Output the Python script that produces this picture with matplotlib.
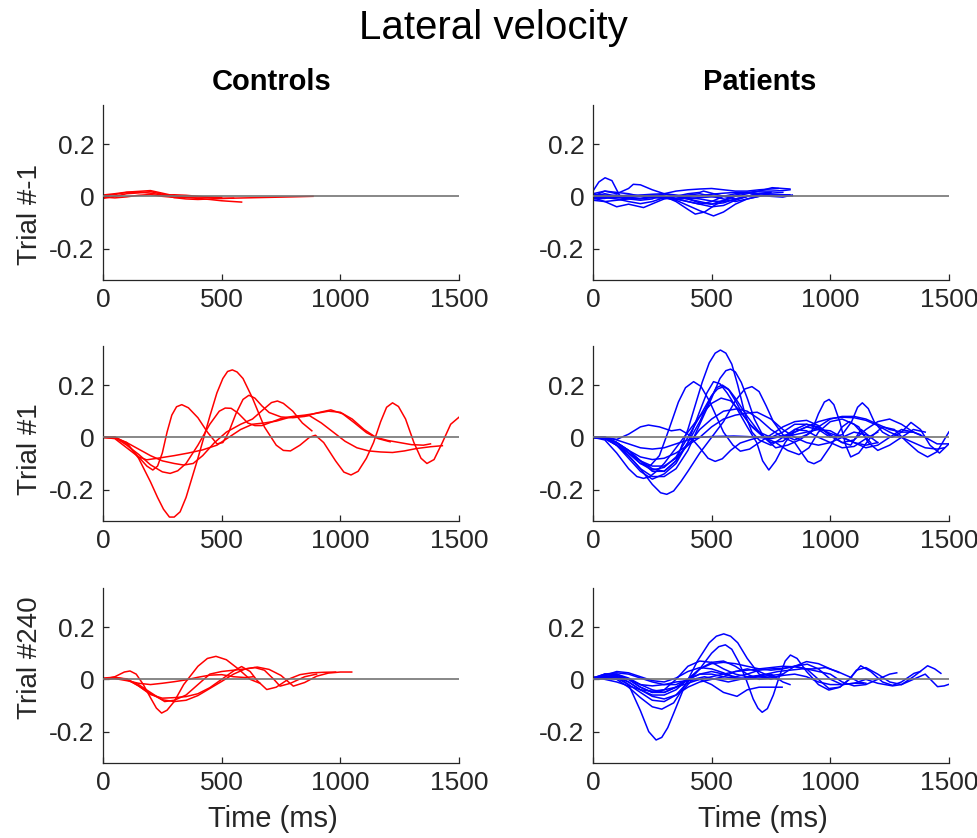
import matplotlib
matplotlib.use("Agg")
import matplotlib.pyplot as plt

plt.rcParams["font.family"] = ["Liberation Sans", "DejaVu Sans"]
plt.rcParams["axes.unicode_minus"] = False

# (time in ms, lateral velocity) samples for each trajectory
ctrl_pre = [
    [(0, 0.005), (50, 0.01), (100, 0.016), (150, 0.019), (200, 0.022), (250, 0.012), (300, 0.002), (350, -0.004),
     (400, -0.008), (450, -0.012), (500, -0.017), (550, -0.02), (584, -0.022)],
    [(0, -0.008), (50, 0.0), (100, 0.01), (150, 0.013), (200, 0.018), (250, 0.008), (300, -0.005), (350, -0.01),
     (400, -0.012), (450, -0.01), (500, -0.008), (600, -0.006), (700, -0.004), (800, -0.002), (885, 0.0)],
    [(0, 0.002), (50, 0.007), (100, 0.015), (150, 0.016), (200, 0.012), (250, 0.005), (300, 0.006), (350, 0.004),
     (400, 0.0), (450, -0.004), (500, -0.008), (550, -0.007)],
    [(0, -0.003), (50, -0.006), (100, -0.002), (150, 0.004), (200, 0.007), (250, 0.0), (300, -0.004), (400, -0.003),
     (500, -0.004)],
]

ctrl_first = [
    [(0, 0), (50, 0.0), (100, -0.02), (150, -0.08), (200, -0.17), (230, -0.23), (255, -0.275), (280, -0.305),
     (300, -0.305), (325, -0.285), (350, -0.23), (400, -0.08), (450, 0.08), (480, 0.17), (505, 0.225),
     (525, 0.252), (545, 0.258), (565, 0.25), (590, 0.225), (630, 0.15), (680, 0.04), (730, -0.03),
     (760, -0.05), (790, -0.052), (830, -0.03), (870, 0.0), (895, 0.008), (930, -0.02), (980, -0.09),
     (1015, -0.133), (1045, -0.144), (1075, -0.13), (1110, -0.08), (1140, -0.02), (1170, 0.06), (1195, 0.115),
     (1220, 0.132), (1245, 0.118), (1275, 0.07), (1310, -0.02), (1340, -0.08), (1365, -0.1), (1395, -0.085),
     (1430, -0.02), (1465, 0.05), (1500, 0.077)],
    [(0, 0), (50, 0.002), (100, -0.025), (150, -0.075), (185, -0.11), (210, -0.125), (230, -0.11), (250, -0.06),
     (270, 0.02), (290, 0.085), (310, 0.117), (332, 0.125), (360, 0.113), (400, 0.075), (440, 0.02),
     (480, -0.025), (505, -0.02), (530, 0.02), (560, 0.09), (590, 0.145), (615, 0.161), (640, 0.15),
     (670, 0.12), (700, 0.095), (750, 0.078), (800, 0.075), (850, 0.08), (900, 0.093), (960, 0.105),
     (1010, 0.09), (1060, 0.055), (1110, 0.018), (1160, -0.005), (1210, -0.017)],
    [(0, 0), (50, -0.003), (100, -0.02), (150, -0.045), (200, -0.07), (250, -0.09), (300, -0.1), (340, -0.106),
     (380, -0.1), (420, -0.07), (470, -0.02), (520, 0.02), (580, 0.05), (630, 0.07), (680, 0.11), (710, 0.133),
     (735, 0.139), (760, 0.13), (800, 0.1), (840, 0.055), (880, 0.025)],
    [(0, 0), (50, 0.0), (100, -0.03), (150, -0.065), (200, -0.105), (250, -0.132), (283, -0.138), (315, -0.128),
     (350, -0.1), (400, -0.03), (450, 0.05), (490, 0.1), (515, 0.112), (540, 0.111), (570, 0.092), (610, 0.055),
     (640, 0.045), (670, 0.045), (700, 0.055), (750, 0.072), (800, 0.08), (850, 0.085), (900, 0.092),
     (950, 0.1), (1000, 0.096), (1050, 0.07), (1100, 0.03), (1150, 0.0), (1200, -0.012), (1250, -0.02),
     (1300, -0.028), (1350, -0.03), (1380, -0.025)],
    [(0, 0), (50, -0.005), (100, -0.04), (150, -0.075), (184, -0.086), (230, -0.08), (300, -0.07), (360, -0.06),
     (420, -0.048), (480, -0.03), (530, 0.0), (580, 0.03), (630, 0.05), (680, 0.055), (730, 0.062), (780, 0.075),
     (830, 0.082), (870, 0.083), (920, 0.055), (970, 0.02), (1020, -0.015), (1070, -0.04), (1120, -0.052),
     (1170, -0.056), (1220, -0.058), (1270, -0.052), (1320, -0.043), (1380, -0.036), (1430, -0.032)],
]

ctrl_last = [
    [(0, 0), (50, 0.01), (90, 0.028), (114, 0.032), (140, 0.02), (170, -0.02), (200, -0.07), (225, -0.11),
     (247, -0.129), (270, -0.118), (300, -0.085), (340, -0.02), (400, 0.05), (440, 0.08), (476, 0.088),
     (520, 0.075), (570, 0.04), (620, 0.0), (661, -0.015)],
    [(0, 0), (50, 0.006), (100, 0.002), (150, -0.025), (200, -0.055), (250, -0.078), (300, -0.085), (350, -0.08),
     (400, -0.062), (450, -0.035), (500, -0.008), (550, 0.02), (600, 0.04), (650, 0.047), (700, 0.038),
     (750, 0.015), (802, -0.026), (850, -0.012), (900, 0.012), (950, 0.024), (1000, 0.028), (1048, 0.028)],
    [(0, 0.005), (50, 0.008), (100, 0.0), (150, -0.025), (200, -0.058), (250, -0.072), (300, -0.07),
     (350, -0.066), (400, -0.055), (450, -0.032), (500, 0.0), (550, 0.032), (584, 0.049), (620, 0.03),
     (650, -0.005), (690, -0.039), (730, -0.03), (780, 0.0), (830, 0.018), (880, 0.025), (930, 0.027),
     (980, 0.028)],
    [(0, 0.002), (50, 0.003), (100, -0.005), (150, -0.015), (200, -0.02), (250, -0.015), (300, -0.009),
     (350, -0.002), (400, 0.008), (450, 0.016), (500, 0.018), (550, 0.01), (600, 0.007), (633, 0.01)],
    [(0, 0.0), (50, 0.005), (100, 0.0), (150, -0.02), (200, -0.05), (260, -0.085), (300, -0.08), (350, -0.06),
     (400, -0.02), (450, 0.02), (500, 0.03), (550, 0.035), (600, 0.04), (640, 0.045), (680, 0.035), (720, 0.0),
     (746, -0.026), (790, -0.015), (850, 0.01), (900, 0.02)],
]

pat_pre = [
    [(0, 0.02), (25, 0.055), (51, 0.071), (80, 0.06), (114, 0.0), (150, -0.005), (200, 0.0), (250, 0.005),
     (300, 0.0), (350, -0.01), (400, -0.02), (450, -0.03), (500, -0.02), (550, 0.0), (600, 0.01), (650, 0.015),
     (700, 0.01), (750, 0.005), (800, 0.006), (830, 0.006)],
    [(0, 0.0), (50, 0.02), (100, 0.01), (150, 0.03), (170, 0.046), (200, 0.044), (250, 0.025), (300, 0.01),
     (350, 0.0), (400, -0.01), (450, -0.025), (500, -0.03), (550, -0.015), (600, 0.005), (650, 0.015),
     (700, 0.02), (750, 0.02), (800, 0.022), (830, 0.025)],
    [(0, -0.005), (50, -0.02), (100, -0.04), (150, -0.03), (213, -0.043), (260, -0.025), (300, -0.01),
     (350, 0.0), (400, 0.01), (450, 0.015), (466, 0.02), (500, 0.012), (550, 0.0), (600, -0.01), (650, 0.0),
     (700, 0.01)],
    [(0, 0.0), (50, 0.01), (100, 0.0), (150, -0.005), (200, -0.01), (250, -0.005), (300, 0.0), (350, -0.02),
     (400, -0.05), (431, -0.068), (470, -0.06), (520, -0.03), (570, -0.01), (600, 0.0), (650, 0.01), (700, 0.02),
     (755, 0.033), (800, 0.03), (830, 0.028)],
    [(0, -0.01), (50, -0.008), (100, 0.0), (150, 0.005), (200, 0.003), (250, 0.0), (300, -0.005), (350, -0.015),
     (400, -0.035), (450, -0.055), (508, -0.075), (550, -0.06), (600, -0.03), (650, -0.01), (700, 0.0)],
    [(0, 0.01), (50, 0.0), (100, -0.005), (150, -0.01), (200, -0.015), (250, -0.01), (300, 0.01), (350, 0.02),
     (400, 0.025), (450, 0.028), (500, 0.03), (550, 0.025), (600, 0.02), (650, 0.02), (700, 0.025),
     (750, 0.028), (780, 0.03)],
    [(0, 0.005), (50, 0.005), (100, 0.0), (150, -0.002), (200, 0.0), (250, 0.005), (300, 0.0), (350, -0.01),
     (400, -0.02), (450, -0.03), (500, -0.04), (550, -0.035), (600, -0.015), (650, 0.0), (700, 0.005),
     (750, 0.0), (800, -0.003), (840, 0.005)],
    [(0, -0.015), (50, -0.02), (100, -0.015), (150, -0.01), (200, -0.008), (250, 0.0), (300, 0.01), (350, 0.0),
     (400, -0.01), (450, -0.02), (500, -0.03), (550, -0.025), (600, -0.01), (650, 0.0), (700, 0.012),
     (750, 0.015)],
    [(0, 0.003), (50, 0.0), (100, 0.005), (150, 0.0), (200, 0.0), (250, -0.002), (300, -0.003), (350, 0.0),
     (400, 0.005), (450, 0.01), (500, 0.0), (550, -0.01), (600, -0.02), (650, -0.01), (700, 0.0), (750, 0.005),
     (800, 0.005), (840, 0.002)],
    [(0, 0.0), (50, -0.005), (100, -0.01), (150, -0.02), (200, -0.028), (250, -0.02), (300, -0.005),
     (350, -0.002), (400, -0.005), (450, -0.01), (500, -0.018), (550, -0.02), (600, -0.012), (650, 0.0),
     (700, 0.01), (750, 0.012), (800, 0.015)],
    [(0, 0.01), (50, 0.02), (100, 0.015), (150, 0.01), (200, 0.0), (250, -0.005), (300, -0.008), (350, -0.01),
     (400, -0.008), (450, -0.005), (500, -0.002), (550, 0.0), (580, 0.0)],
    [(0, -0.003), (50, -0.005), (100, -0.003), (150, 0.0), (200, 0.005), (250, 0.008), (300, 0.01), (350, 0.005),
     (400, 0.0), (450, 0.003), (500, 0.008), (550, 0.012), (600, 0.015), (650, 0.014), (700, 0.01)],
]

pat_first = [
    [(0, 0), (50, 0.0), (100, -0.02), (150, -0.05), (200, -0.09), (250, -0.12), (300, -0.13), (350, -0.09),
     (400, 0.03), (430, 0.12), (460, 0.21), (490, 0.285), (515, 0.322), (537, 0.334), (560, 0.322),
     (585, 0.28), (610, 0.2), (640, 0.09), (670, 0.02), (700, -0.01), (750, -0.03), (800, 0.0), (850, 0.03),
     (900, 0.025), (950, 0.0), (1000, -0.02), (1050, -0.04), (1100, -0.035), (1150, -0.005), (1200, 0.02)],
    [(0, 0), (50, -0.005), (100, -0.03), (150, -0.07), (200, -0.12), (250, -0.15), (300, -0.15), (350, -0.12),
     (400, -0.05), (450, 0.05), (500, 0.15), (535, 0.225), (560, 0.255), (580, 0.261), (600, 0.25),
     (625, 0.21), (650, 0.15), (680, 0.07), (720, 0.0), (770, -0.04), (820, -0.03), (870, -0.01), (920, 0.02),
     (950, 0.09), (975, 0.135), (995, 0.145), (1015, 0.125), (1040, 0.06), (1065, -0.03), (1086, -0.075),
     (1120, -0.06), (1170, 0.0), (1220, 0.04), (1270, 0.03), (1320, -0.015), (1370, -0.055), (1410, -0.075),
     (1450, -0.055), (1500, 0.021)],
    [(0, 0), (50, 0.0), (100, -0.02), (150, -0.06), (200, -0.1), (240, -0.11), (280, -0.07), (320, 0.03),
     (360, 0.135), (390, 0.19), (424, 0.213), (455, 0.195), (490, 0.14), (520, 0.08), (550, 0.02),
     (590, -0.03), (621, -0.053), (660, -0.045), (700, -0.02), (750, 0.01), (800, 0.04), (850, 0.06),
     (900, 0.065), (950, 0.045), (1000, 0.005), (1050, -0.02), (1100, -0.01), (1150, 0.03), (1200, 0.06),
     (1250, 0.07), (1300, 0.05), (1350, 0.02), (1380, 0.01)],
    [(0, 0), (50, 0.0), (100, -0.008), (150, 0.012), (200, 0.04), (234, 0.047), (280, 0.04), (330, 0.025),
     (367, 0.03), (400, 0.012), (450, -0.04), (485, -0.08), (515, -0.092), (545, -0.082), (580, -0.05),
     (620, -0.022), (660, -0.01), (700, 0.0), (750, 0.0), (800, 0.005), (850, 0.01), (900, 0.02), (950, 0.03),
     (1000, 0.025), (1050, 0.0), (1100, -0.02), (1150, -0.03), (1200, -0.02)],
    [(0, 0), (50, -0.005), (100, -0.03), (150, -0.07), (200, -0.12), (250, -0.18), (285, -0.212), (311, -0.218),
     (340, -0.205), (370, -0.17), (400, -0.13), (450, -0.06), (500, 0.0), (550, 0.06), (600, 0.14),
     (640, 0.185), (670, 0.194), (700, 0.175), (730, 0.12), (760, 0.06), (800, 0.01), (850, -0.01),
     (900, 0.01), (950, 0.04), (1000, 0.07), (1050, 0.08), (1100, 0.08), (1150, 0.07), (1200, 0.05),
     (1250, 0.03), (1300, 0.02), (1350, 0.02), (1400, 0.0), (1450, -0.025), (1500, -0.025)],
    [(0, 0), (50, 0.0), (100, -0.03), (150, -0.08), (200, -0.13), (250, -0.16), (300, -0.14), (350, -0.1),
     (400, -0.02), (450, 0.1), (480, 0.17), (508, 0.213), (535, 0.205), (565, 0.17), (600, 0.12), (650, 0.04),
     (690, -0.02), (715, -0.09), (741, -0.125), (770, -0.09), (810, -0.02), (850, 0.03), (900, 0.05),
     (950, 0.04), (1000, 0.01), (1050, -0.02), (1086, -0.03), (1130, 0.03), (1170, 0.0), (1200, -0.02)],
    [(0, 0), (50, 0.0), (100, -0.02), (150, -0.06), (200, -0.1), (250, -0.125), (300, -0.115), (350, -0.075),
     (400, 0.0), (450, 0.08), (500, 0.16), (525, 0.185), (551, 0.194), (575, 0.18), (600, 0.15), (650, 0.08),
     (700, 0.02), (750, -0.02), (800, -0.015), (850, 0.02), (900, 0.04), (950, 0.03), (1000, 0.0),
     (1050, 0.01), (1090, 0.06), (1115, 0.115), (1135, 0.132), (1160, 0.11), (1185, 0.06), (1220, 0.02),
     (1260, 0.0), (1300, 0.02), (1340, 0.057), (1380, 0.03), (1420, -0.03), (1460, -0.06), (1500, -0.025)],
    [(0, 0), (50, 0.0), (100, -0.03), (150, -0.06), (200, -0.09), (250, -0.11), (300, -0.11), (350, -0.08),
     (400, -0.03), (450, 0.03), (500, 0.07), (550, 0.1), (607, 0.109), (650, 0.1), (700, 0.07), (750, 0.03),
     (800, 0.0), (850, -0.02), (880, -0.06), (905, -0.092), (931, -0.101), (960, -0.088), (1000, -0.035),
     (1050, 0.04), (1080, 0.06), (1120, 0.04), (1160, -0.02), (1200, -0.05), (1250, -0.03), (1300, 0.0),
     (1350, 0.03), (1400, 0.02)],
    [(0, 0), (50, 0.0), (100, -0.02), (150, -0.05), (200, -0.075), (250, -0.085), (300, -0.08), (350, -0.06),
     (400, -0.03), (450, 0.0), (500, 0.04), (550, 0.07), (600, 0.085), (650, 0.093), (692, 0.096), (750, 0.07),
     (800, 0.03), (850, 0.0), (900, -0.02), (950, -0.03), (1000, -0.02), (1050, 0.0), (1100, 0.02),
     (1150, 0.01), (1180, 0.0)],
    [(0, 0), (50, 0.0), (100, -0.01), (150, -0.025), (200, -0.04), (250, -0.045), (300, -0.04), (350, -0.025),
     (400, -0.01), (450, 0.0), (500, 0.003), (550, 0.004), (593, 0.005), (650, 0.003), (700, 0.0),
     (750, -0.005), (800, 0.005), (850, 0.02), (900, 0.04), (950, 0.06), (1000, 0.072), (1050, 0.077),
     (1100, 0.075), (1150, 0.065), (1200, 0.045), (1250, 0.02), (1300, 0.0), (1350, -0.02), (1400, -0.04),
     (1450, -0.045), (1480, -0.04)],
    [(0, 0), (50, -0.01), (100, -0.06), (150, -0.12), (185, -0.15), (213, -0.157), (240, -0.15), (270, -0.128),
     (300, -0.1), (350, -0.04), (400, 0.02), (450, 0.08), (500, 0.13), (540, 0.15), (580, 0.14), (620, 0.1),
     (670, 0.04), (720, 0.0), (770, -0.02), (820, -0.05), (868, -0.066), (910, -0.04), (950, 0.02),
     (1000, 0.06), (1050, 0.07), (1100, 0.05), (1150, 0.0), (1170, -0.02)],
    [(0, 0), (50, -0.002), (100, -0.02), (150, -0.05), (200, -0.09), (250, -0.13), (300, -0.13), (350, -0.09),
     (400, -0.02), (450, 0.06), (490, 0.14), (520, 0.19), (545, 0.2), (570, 0.185), (600, 0.14), (630, 0.09),
     (660, 0.05), (700, 0.02), (750, 0.0), (800, 0.02), (850, 0.05), (900, 0.05), (950, 0.035), (1000, 0.015),
     (1050, 0.0), (1100, -0.02), (1150, -0.04), (1200, -0.03), (1250, 0.0), (1300, 0.03), (1350, 0.02)],
]

pat_last = [
    [(0, 0.0), (50, 0.01), (100, 0.01), (150, -0.02), (200, -0.12), (235, -0.2), (266, -0.232), (290, -0.222),
     (315, -0.185), (340, -0.13), (380, -0.04), (420, 0.0), (470, 0.01), (520, 0.0), (570, -0.01), (620, 0.0),
     (680, 0.01), (730, 0.02), (780, 0.03), (830, 0.035), (880, 0.04), (930, 0.04), (980, 0.045), (1030, 0.03),
     (1080, 0.01), (1120, -0.01), (1150, -0.015)],
    [(0, 0.0), (50, 0.005), (100, 0.0), (150, -0.03), (200, -0.07), (250, -0.105), (290, -0.114), (340, -0.09),
     (390, -0.02), (440, 0.07), (490, 0.14), (520, 0.165), (551, 0.174), (580, 0.165), (610, 0.14),
     (650, 0.08), (700, 0.02), (750, 0.0), (800, 0.02), (850, 0.05), (900, 0.068), (950, 0.06), (1000, 0.04),
     (1036, 0.026)],
    [(0, 0.005), (50, 0.02), (100, 0.01), (150, -0.01), (200, -0.04), (250, -0.06), (300, -0.06), (350, -0.04),
     (400, 0.0), (450, 0.04), (500, 0.1), (530, 0.125), (558, 0.132), (585, 0.115), (615, 0.065), (645, 0.0),
     (675, -0.075), (695, -0.11), (713, -0.126), (735, -0.112), (760, -0.06), (785, 0.01), (810, 0.07),
     (832, 0.093), (860, 0.08), (900, 0.03), (950, -0.02), (994, -0.041), (1040, -0.03), (1080, 0.0),
     (1128, 0.052), (1170, 0.03), (1220, -0.01), (1262, -0.023), (1300, -0.01), (1353, 0.023), (1380, 0.03)],
    [(0, 0.0), (50, 0.015), (100, 0.02), (150, 0.005), (200, -0.02), (250, -0.04), (300, -0.05), (350, -0.03),
     (400, 0.0), (450, 0.04), (500, 0.06), (550, 0.065), (600, 0.06), (650, 0.05), (700, 0.04), (750, 0.035),
     (800, 0.04), (850, 0.05), (903, 0.058), (950, 0.04), (1001, 0.0), (1050, -0.02), (1100, -0.015),
     (1150, 0.0), (1200, -0.015), (1262, -0.025), (1300, -0.02), (1350, 0.01), (1410, 0.052), (1440, 0.04),
     (1466, 0.023)],
    [(0, 0.005), (50, 0.02), (100, 0.02), (150, 0.0), (200, -0.03), (250, -0.05), (300, -0.05), (350, -0.03),
     (400, 0.0), (450, 0.02), (500, 0.03), (550, 0.02), (600, 0.01), (650, 0.02), (700, 0.035), (750, 0.04),
     (800, 0.042), (850, 0.05), (900, 0.04), (950, 0.0), (994, -0.035), (1040, -0.03), (1080, 0.0),
     (1110, 0.035), (1150, 0.045), (1200, 0.02), (1250, -0.01), (1300, -0.02), (1350, 0.0), (1400, 0.02),
     (1452, -0.028), (1480, -0.025), (1500, -0.019)],
    [(0, 0.0), (50, 0.01), (100, 0.005), (150, -0.02), (200, -0.05), (250, -0.08), (300, -0.085), (350, -0.06),
     (400, -0.01), (450, 0.04), (500, 0.065), (550, 0.07), (600, 0.05), (650, 0.02), (700, 0.0), (750, 0.005),
     (800, 0.015), (850, 0.02), (900, 0.01), (950, -0.01), (1000, -0.02), (1050, -0.02), (1100, -0.015),
     (1140, -0.015)],
    [(0, 0.0), (50, 0.005), (100, 0.01), (150, 0.0), (200, -0.02), (250, -0.025), (300, -0.02), (350, -0.01),
     (400, -0.005), (450, 0.0), (500, -0.02), (550, -0.05), (607, -0.065), (650, -0.04), (700, -0.03),
     (750, -0.03), (797, -0.03)],
    [(0, 0.005), (50, 0.01), (100, 0.015), (150, 0.0), (200, -0.03), (250, -0.05), (300, -0.04), (350, 0.0),
     (400, 0.05), (450, 0.07), (500, 0.065), (550, 0.04), (600, 0.02), (650, 0.01), (700, 0.015), (750, 0.02),
     (800, -0.01), (830, -0.02)],
    [(0, 0.0), (50, 0.02), (100, 0.025), (150, 0.02), (200, 0.005), (250, -0.01), (300, -0.02), (350, -0.02),
     (400, 0.0), (450, 0.02), (500, 0.02), (550, 0.01), (600, 0.005), (650, 0.005), (700, 0.01), (750, 0.015),
     (800, 0.02)],
    [(0, 0.0), (50, 0.005), (100, 0.01), (150, -0.01), (200, -0.04), (250, -0.065), (300, -0.075), (350, -0.06),
     (400, -0.03), (450, -0.01), (500, 0.0), (550, 0.01), (600, 0.03), (650, 0.04), (700, 0.03), (750, 0.01),
     (780, 0.0)],
    [(0, 0.0), (50, 0.015), (100, 0.03), (150, 0.025), (200, 0.01), (250, -0.005), (300, -0.01), (350, 0.005),
     (400, 0.03), (450, 0.045), (500, 0.04), (550, 0.025), (600, 0.005), (650, 0.0), (700, 0.005), (760, 0.01)],
    [(0, 0.01), (50, 0.0), (100, -0.01), (150, -0.025), (200, -0.04), (250, -0.045), (300, -0.04), (350, -0.03),
     (400, -0.015), (450, 0.0), (500, 0.01), (550, 0.02), (600, 0.03), (650, 0.035), (700, 0.04), (750, 0.045),
     (800, 0.05), (850, 0.048), (900, 0.04), (950, 0.03), (1000, 0.02), (1050, -0.01), (1100, -0.025),
     (1150, -0.02), (1200, 0.0), (1250, 0.02), (1280, 0.025)],
]

row_labels = ["Trial #-1", "Trial #1", "Trial #240"]
row_label_y = [0.375, 0.41, 0.6]
group_titles = ["Controls", "Patients"]
group_colors = ["#ff0000", "#0000ff"]
panels = [[ctrl_pre, pat_pre], [ctrl_first, pat_first], [ctrl_last, pat_last]]

fig = plt.figure(figsize=(9.78, 8.38), dpi=100)
col_x = [0.1053, 0.6063]
row_y = [0.6659, 0.3783, 0.0895]
ax_w, ax_h = 0.364, 0.209

for r in range(3):
    for c in range(2):
        ax = fig.add_axes([col_x[c], row_y[r], ax_w, ax_h])
        for curve in panels[r][c]:
            t = [p[0] for p in curve]
            v = [p[1] for p in curve]
            ax.plot(t, v, color=group_colors[c], lw=1.1, zorder=2)
        ax.plot([0, 1500], [0, 0], color="0.45", lw=1.2, zorder=3)
        ax.set_xlim(0, 1500)
        ax.set_ylim(-0.32, 0.35)
        ax.set_xticks([0, 500, 1000, 1500])
        ax.set_yticks([-0.2, 0, 0.2])
        ax.set_yticklabels(["-0.2", "0", "0.2"])
        ax.tick_params(direction="in", length=4, width=0.9, colors="#262626", labelsize=19, pad=6)
        for side in ["top", "right"]:
            ax.spines[side].set_visible(False)
        for side in ["left", "bottom"]:
            ax.spines[side].set_color("#262626")
            ax.spines[side].set_linewidth(0.9)
        if c == 0:
            ax.set_ylabel(row_labels[r], fontsize=20, color="#262626")
            ax.yaxis.set_label_coords(-0.168, row_label_y[r])
        if r == 2:
            ax.set_xlabel("Time (ms)", fontsize=21, color="#262626")
            ax.xaxis.set_label_coords(0.476, -0.24)

fig.text(0.278, 0.902, group_titles[0], ha="center", va="center", fontsize=21, fontweight="bold")
fig.text(0.777, 0.902, group_titles[1], ha="center", va="center", fontsize=21, fontweight="bold")
fig.text(0.504, 0.966, "Lateral velocity", ha="center", va="center", fontsize=29)

fig.savefig("out.png", dpi=100)
